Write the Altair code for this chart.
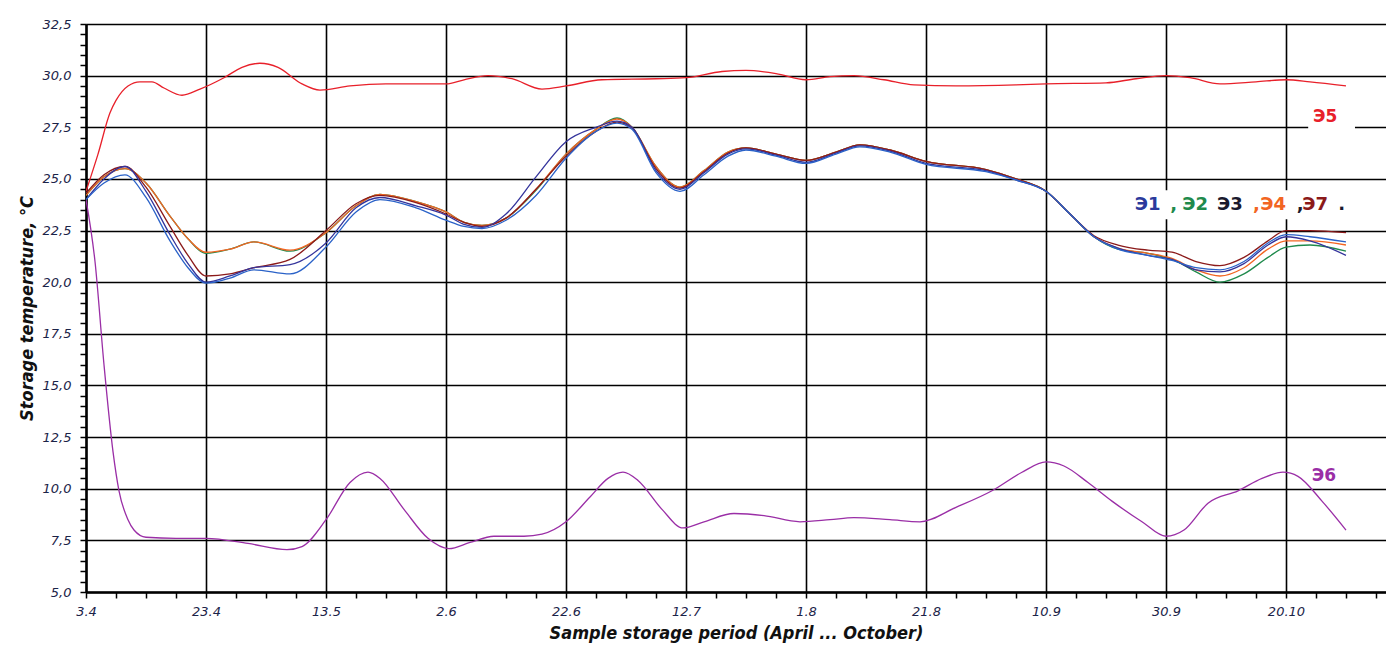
import altair as alt
import pandas as pd

# ---------------- data ----------------
X_TICK_LABELS = ["3.4", "23.4", "13.5", "2.6", "22.6", "12.7", "1.8", "21.8", "10.9", "30.9", "20.10"]

# Э5 (red)
E5_DAYS = [0, 2, 4, 5, 7, 9, 11, 13, 16, 19, 23, 26, 29, 32, 36, 39, 44, 50, 60, 63, 67, 71, 76, 80,
           86, 95, 100, 106, 110, 115, 120, 124, 128, 133, 138, 145, 155, 160, 170, 175, 180, 184,
           189, 195, 200, 204, 210]
E5_VALS = [24.4, 26.2, 28.2, 28.8, 29.5, 29.7, 29.7, 29.4, 29.05, 29.35, 29.9, 30.4, 30.6, 30.4, 29.6,
           29.3, 29.5, 29.6, 29.6, 29.8, 30.0, 29.85, 29.35, 29.5, 29.8, 29.85, 29.9, 30.2, 30.25,
           30.1, 29.8, 29.95, 30.0, 29.8, 29.55, 29.5, 29.55, 29.6, 29.65, 29.85, 30.0, 29.9, 29.6,
           29.7, 29.8, 29.7, 29.5]

# Э6 (purple)
E6_DAYS = [0, 1.5, 3, 4.5, 5.5, 7, 8, 10, 15, 20, 27, 33.5, 36, 40, 44, 47, 49, 53, 57, 60.5, 64, 68,
           73, 76, 80, 84, 87, 89.5, 92, 96, 99.5, 103, 108, 113, 119, 124, 128, 134, 139, 145, 151,
           156, 160, 163, 167, 171, 176, 180, 183, 187, 192, 196, 199.5, 202, 206, 210]
E6_VALS = [24.0, 21.0, 16.0, 11.8, 9.9, 8.5, 8.0, 7.65, 7.6, 7.6, 7.35, 7.05, 7.2, 8.5, 10.3, 10.8,
           10.5, 9.0, 7.6, 7.1, 7.4, 7.7, 7.7, 7.8, 8.4, 9.6, 10.5, 10.8, 10.4, 9.0, 8.1, 8.4, 8.8,
           8.7, 8.4, 8.5, 8.6, 8.5, 8.4, 9.1, 9.9, 10.8, 11.3, 11.1, 10.3, 9.4, 8.4, 7.7, 8.0, 9.3,
           9.9, 10.5, 10.8, 10.6, 9.4, 8.0]

CLUSTER_DAYS = [0, 3, 6.5, 10, 14, 17, 20, 24, 28, 34, 40, 45, 49, 55, 60, 63, 66, 70, 75, 80, 85,
                88.5, 91, 95, 99, 103, 107, 110, 115, 120, 125, 129, 134, 140, 150, 155, 160, 164,
                168, 172, 177, 181, 185, 189, 193, 197, 200, 204, 210]

E2_VALS = [24.2, 25.1, 25.5, 24.8, 23.2, 22.1, 21.4, 21.6, 21.95, 21.5, 22.4, 23.7, 24.25, 23.9, 23.4,
           22.9, 22.75, 23.1, 24.45, 26.2, 27.4, 27.95, 27.5, 25.6, 24.6, 25.4, 26.3, 26.5, 26.2,
           25.9, 26.3, 26.65, 26.4, 25.85, 25.45, 25.0, 24.4, 23.3, 22.2, 21.6, 21.4, 21.1, 20.5,
           20.0, 20.4, 21.2, 21.7, 21.8, 21.5]
E4_VALS = [24.2, 25.1, 25.5, 24.8, 23.2, 22.1, 21.45, 21.6, 21.95, 21.55, 22.4, 23.7, 24.25, 23.9,
           23.4, 22.9, 22.75, 23.1, 24.5, 26.2, 27.4, 27.9, 27.5, 25.6, 24.6, 25.4, 26.3, 26.5, 26.2,
           25.9, 26.3, 26.65, 26.4, 25.85, 25.45, 25.0, 24.4, 23.3, 22.2, 21.65, 21.4, 21.15, 20.6,
           20.3, 20.7, 21.6, 22.0, 22.0, 21.8]
E7_VALS = [24.3, 25.2, 25.6, 24.6, 22.7, 21.3, 20.3, 20.4, 20.7, 21.1, 22.5, 23.8, 24.2, 23.85, 23.3,
           22.9, 22.7, 23.1, 24.5, 26.1, 27.3, 27.75, 27.45, 25.5, 24.55, 25.35, 26.25, 26.5, 26.2,
           25.9, 26.3, 26.65, 26.4, 25.85, 25.45, 25.0, 24.4, 23.3, 22.25, 21.8, 21.55, 21.45, 21.0,
           20.8, 21.2, 22.0, 22.5, 22.5, 22.4]
E1_VALS = [24.0, 25.0, 25.6, 24.4, 22.3, 20.9, 20.0, 20.3, 20.7, 20.85, 21.9, 23.6, 24.1, 23.7, 23.25,
           22.8, 22.65, 23.3, 25.1, 26.8, 27.5, 27.8, 27.5, 25.4, 24.5, 25.3, 26.2, 26.45, 26.15,
           25.8, 26.25, 26.6, 26.35, 25.75, 25.4, 24.95, 24.4, 23.3, 22.2, 21.65, 21.3, 21.1, 20.6,
           20.5, 20.9, 21.8, 22.2, 22.0, 21.3]
E3_VALS = [24.0, 24.8, 25.2, 24.1, 22.0, 20.7, 19.95, 20.2, 20.6, 20.4, 21.7, 23.4, 24.0, 23.6, 23.0,
           22.7, 22.6, 23.0, 24.2, 26.0, 27.3, 27.7, 27.4, 25.3, 24.4, 25.2, 26.1, 26.4, 26.1, 25.75,
           26.2, 26.55, 26.3, 25.7, 25.35, 24.95, 24.4, 23.3, 22.2, 21.6, 21.3, 21.05, 20.7, 20.6,
           21.0, 21.9, 22.3, 22.2, 21.95]

SERIES_NAMES = ["Э5", "Э6", "Э2", "Э4", "Э7", "Э1", "Э3"]
SERIES_COLORS = ["#e8202a", "#9a2ea6", "#1f8a4c", "#f26522", "#8b1a1a", "#34349c", "#2a62c8"]

# Labels (positions in data units: day, °C)
LABEL_TEXT = ["Э5", "Э6"]
LABEL_DAY = [204.5, 204.3]
LABEL_VAL = [28.0, 10.6]
LABEL_COLOR = ["#e8202a", "#9a2ea6"]

LEGEND_TEXT = ["Э1", ",", "Э2", "Э3", ",", "Э4", ",", "Э7", "."]
LEGEND_DAY = [174.8, 180.7, 182.7, 188.5, 194.5, 195.7, 201.8, 202.7, 208.7]
LEGEND_VAL = 23.73
LEGEND_COLOR = ["#2b3a9c", "#1f8a4c", "#1f8a4c", "#1a1a2e", "#f26522", "#f26522", "#1a1a2e",
                "#8b1a1a", "#1a1a2e"]

BOX_X1 = [203.7, 173.2]
BOX_X2 = [211.5, 211.0]
BOX_Y1 = [28.45, 24.45]
BOX_Y2 = [27.35, 23.05]

# ---------------- build tables ----------------
rows = []
series_data = {
    "Э5": (E5_DAYS, E5_VALS),
    "Э6": (E6_DAYS, E6_VALS),
    "Э2": (CLUSTER_DAYS, E2_VALS),
    "Э4": (CLUSTER_DAYS, E4_VALS),
    "Э7": (CLUSTER_DAYS, E7_VALS),
    "Э1": (CLUSTER_DAYS, E1_VALS),
    "Э3": (CLUSTER_DAYS, E3_VALS),
}
for name, (ds, vs) in series_data.items():
    for i, (d, v) in enumerate(zip(ds, vs)):
        rows.append({"series": name, "day": d, "temp": v, "order": i})
df = pd.DataFrame(rows)

labels_df = pd.DataFrame({"txt": LABEL_TEXT, "day": LABEL_DAY, "temp": LABEL_VAL, "col": LABEL_COLOR})
legend_df = pd.DataFrame({"txt": LEGEND_TEXT, "day": LEGEND_DAY, "temp": [LEGEND_VAL] * len(LEGEND_TEXT),
                          "col": LEGEND_COLOR})
box_df = pd.DataFrame({"x1": BOX_X1, "x2": BOX_X2, "y1": BOX_Y1, "y2": BOX_Y2})

X_MAX = 216.67
x_tick_vals = list(range(0, 216, 5))
y_tick_vals = [5 + 0.5 * i for i in range(56)]

lab_arr = "[" + ",".join("'" + s + "'" for s in X_TICK_LABELS) + "]"
x_label_expr = f"datum.value % 20 === 0 ? {lab_arr}[datum.value / 20] : ''"
y_label_expr = "datum.value % 2.5 === 0 ? replace(format(datum.value, '.1f'), '.', ',') : ''"

LABEL_FONT = "DejaVu Sans"
TITLE_FONT = "DejaVu Sans Condensed, Liberation Sans Narrow, DejaVu Sans"

x_scale = alt.Scale(domain=[0, X_MAX], nice=False, zero=False)
y_scale = alt.Scale(domain=[5, 32.5], nice=False, zero=False)

x_axis = alt.Axis(
    values=x_tick_vals, tickCount=500, labelExpr=x_label_expr, labelFlush=False, labelOverlap=False,
    tickSize=6, tickColor="black", tickWidth=1.5,
    domainColor="black", domainWidth=2.5,
    grid=True, gridColor="black", gridWidth=1.6,
    gridOpacity={"condition": {"test": "datum.value % 20 === 0", "value": 1}, "value": 0},
    labelFont=LABEL_FONT, labelFontStyle="italic", labelFontSize=13, labelColor="#1b2348",
    labelPadding=7,
    title="Sample storage period (April ... October)",
    titleFont=TITLE_FONT, titleFontSize=18, titleFontStyle="italic", titleFontWeight="bold",
    titleColor="#111111", titlePadding=6,
)
y_axis = alt.Axis(
    values=y_tick_vals, tickCount=500, labelExpr=y_label_expr, labelFlush=False, labelOverlap=False,
    tickSize=6, tickColor="black", tickWidth=1.5,
    domainColor="black", domainWidth=2.5,
    grid=True, gridColor="black", gridWidth=1.6,
    gridOpacity={"condition": {"test": "datum.value % 2.5 === 0", "value": 1}, "value": 0},
    labelFont=LABEL_FONT, labelFontStyle="italic", labelFontSize=13, labelColor="#1b2348",
    labelPadding=9,
    title="Storage temperature, °C",
    titleFont=TITLE_FONT, titleFontSize=18, titleFontStyle="italic", titleFontWeight="bold",
    titleColor="#111111", titlePadding=6,
)

lines = alt.Chart(df).mark_line(interpolate="monotone", strokeWidth=1.3, clip=True).encode(
    x=alt.X("day:Q", scale=x_scale, axis=x_axis),
    y=alt.Y("temp:Q", scale=y_scale, axis=y_axis),
    color=alt.Color("series:N", scale=alt.Scale(domain=SERIES_NAMES, range=SERIES_COLORS), legend=None),
    detail="series:N",
    order="order:Q",
)

boxes = alt.Chart(box_df).mark_rect(color="white").encode(
    x="x1:Q", x2="x2", y="y1:Q", y2="y2"
)

labels = alt.Chart(labels_df).mark_text(
    align="left", baseline="middle", font=LABEL_FONT, fontSize=17, fontWeight="bold"
).encode(
    x="day:Q", y="temp:Q", text="txt:N", color=alt.Color("col:N", scale=None)
)

legend_txt = alt.Chart(legend_df).mark_text(
    align="left", baseline="middle", font=LABEL_FONT, fontSize=18, fontWeight="bold"
).encode(
    x="day:Q", y="temp:Q", text="txt:N", color=alt.Color("col:N", scale=None)
)

chart = alt.layer(lines, boxes, labels, legend_txt).properties(
    width=1300, height=568,
    autosize=alt.AutoSizeParams(type="none"),
    padding={"left": 86, "top": 24, "right": 0, "bottom": 54},
    background="white",
).configure_view(stroke=None)

chart.save("out.html", embed_options={"renderer": "svg", "actions": False})
